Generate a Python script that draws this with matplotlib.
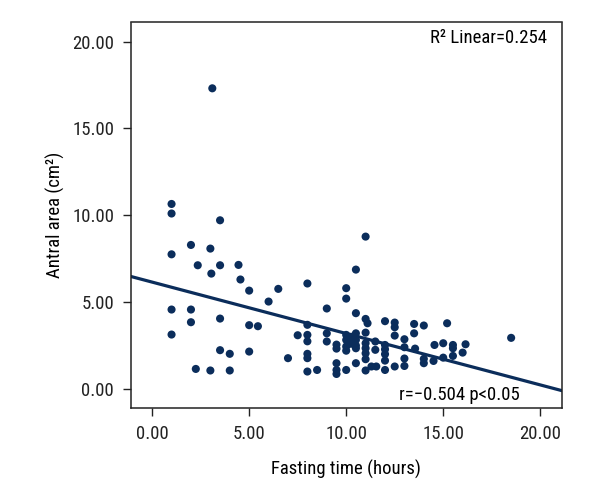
import numpy as np
import matplotlib
matplotlib.use('Agg')
import matplotlib.pyplot as plt

plt.rcParams['font.family'] = ['Roboto Condensed', 'Fira Sans Condensed', 'PT Sans Narrow',
                               'Liberation Sans Narrow', 'DejaVu Sans']

# fasting time (hours) vs antral area (cm2)
fasting_hours = [
    1.0, 1.0, 1.0, 1.0, 1.0, 2.0, 2.0, 2.0, 2.25, 2.35,
    3.0, 3.05, 3.0, 3.1, 3.5, 3.5, 3.5, 3.5, 4.0, 4.0,
    4.45, 4.55, 5.0, 5.0, 5.0, 5.45, 6.0, 6.5, 7.0, 7.5,
    8.0, 8.0, 8.0, 8.0, 8.0, 8.0, 8.0, 8.5, 9.0, 9.0,
    9.0, 9.5, 9.5, 9.5, 9.5, 9.5, 10.0, 10.0, 10.0, 10.0,
    10.0, 10.0, 10.0, 10.25, 10.25, 10.25, 10.5, 10.5, 10.5, 10.5,
    10.5, 10.5, 10.5, 11.0, 11.1, 11.0, 11.0, 11.0, 11.0, 11.0,
    11.0, 11.0, 11.3, 11.5, 11.5, 11.55, 12.0, 12.0, 12.0, 12.0,
    12.0, 12.0, 12.5, 12.5, 12.5, 12.5, 13.0, 13.0, 13.0, 13.0,
    13.5, 13.5, 13.55, 14.0, 14.0, 14.0, 14.5, 14.55, 15.0, 15.0,
    15.2, 15.5, 15.5, 15.5, 16.0, 16.15, 18.5,
]
antral_area = [
    10.65, 10.1, 7.75, 4.57, 3.13, 8.29, 4.57, 3.84, 1.15, 7.12,
    8.08, 6.64, 1.06, 17.31, 9.71, 7.12, 4.05, 2.23, 2.02, 1.06,
    7.14, 6.30, 5.66, 3.67, 2.15, 3.61, 5.03, 5.76, 1.77, 3.09,
    6.07, 3.69, 3.11, 2.74, 2.02, 1.77, 1.0, 1.09, 4.63, 3.2,
    2.73, 2.55, 2.32, 1.48, 1.09, 0.86, 5.80, 5.20, 3.11, 2.82,
    2.44, 2.2, 1.09, 3.0, 2.6, 2.9, 4.36, 6.87, 3.2, 2.82,
    2.5, 2.34, 1.48, 4.03, 3.78, 8.77, 3.24, 2.63, 2.34, 2.05,
    1.71, 1.06, 1.29, 2.73, 2.25, 1.29, 3.90, 2.53, 2.28, 2.0,
    1.63, 1.09, 3.82, 3.55, 3.07, 1.29, 2.86, 2.4, 1.75, 1.32,
    3.74, 3.2, 2.32, 3.65, 1.73, 1.48, 1.61, 2.53, 2.63, 1.8,
    3.78, 2.53, 2.34, 1.9, 2.09, 2.57, 2.94,
]

# linear fit as drawn
fit_intercept = 6.15
fit_slope = -0.296

tick_values = [0, 5, 10, 15, 20]
tick_labels = ['0.00', '5.00', '10.00', '15.00', '20.00']

navy = '#0b2d5b'

fig = plt.figure(figsize=(6, 5), dpi=100)
ax = fig.add_axes([0.218, 0.184, 0.718, 0.771])

ax.scatter(fasting_hours, antral_area, s=34, color=navy, edgecolors='none', zorder=3)

xlim = (-1.1, 21.1)
xs = np.array(xlim)
ax.plot(xs, fit_intercept + fit_slope * xs, color=navy, lw=2.3, zorder=2)

ax.set_xlim(*xlim)
ax.set_ylim(-1.1, 21.1)
ax.set_xticks(tick_values)
ax.set_xticklabels(tick_labels)
ax.set_yticks(tick_values)
ax.set_yticklabels(tick_labels)
ax.tick_params(direction='out', length=6, width=1, labelsize=13.5, pad=6, colors='#222222')
for side in ax.spines.values():
    side.set_linewidth(1.1)
    side.set_color('#222222')

ax.set_xlabel('Fasting time (hours)', fontsize=13.5, labelpad=12)
ax.set_ylabel('Antral area (cm²)', fontsize=13.5, labelpad=5)

ax.text(0.966, 0.96, 'R² Linear=0.254', transform=ax.transAxes,
        ha='right', va='center', fontsize=13.5)
ax.text(0.903, 0.034, 'r=\u22120.504 p<0.05', transform=ax.transAxes,
        ha='right', va='center', fontsize=13.5)

fig.savefig('out.png', dpi=100)
